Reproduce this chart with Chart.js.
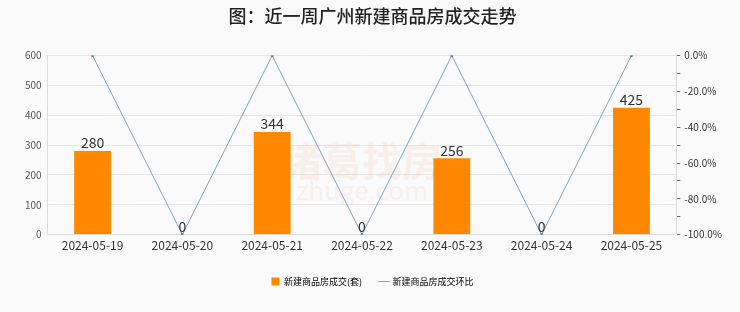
<!DOCTYPE html>
<html>
<head>
<meta charset="utf-8">
<script src="https://cdn.jsdelivr.net/npm/chart.js@4"></script>
<style>
  html, body { margin: 0; padding: 0; background: #fafafa; }
  #wrap { width: 740px; height: 312px; position: relative; }
</style>
</head>
<body>
<div id="wrap"><canvas id="c" width="740" height="312"></canvas></div>
<script>
// Chart data
const titleText = "图：近一周广州新建商品房成交走势";
const dates = ["2024-05-19", "2024-05-20", "2024-05-21", "2024-05-22", "2024-05-23", "2024-05-24", "2024-05-25"];
const deals = [280, 0, 344, 0, 256, 0, 425];          // 新建商品房成交(套)
const changeRate = [0, -100, 0, -100, 0, -100, 0];    // 新建商品房成交环比 (%)
const barLabel = "新建商品房成交(套)";
const lineLabel = "新建商品房成交环比";

const fontFamily = '"Noto Sans CJK SC", "DejaVu Sans", sans-serif';

// Draws values above bars
const barValues = {
    id: "barValues",
    afterDatasetsDraw(chart) {
        const ctx = chart.ctx;
        const meta = chart.getDatasetMeta(0);
        ctx.save();
        ctx.font = "14px " + fontFamily;
        ctx.fillStyle = "#333";
        ctx.textAlign = "center";
        ctx.textBaseline = "bottom";
        meta.data.forEach((bar, i) => {
            ctx.fillText(String(deals[i]), bar.x, bar.y - 1);
        });
        ctx.restore();
    }
};

// Faint watermark in the middle of the plot
const watermark = {
    id: "watermark",
    beforeDatasetsDraw(chart) {
        const a = chart.chartArea;
        const ctx = chart.ctx;
        ctx.save();
        ctx.fillStyle = "rgba(240, 160, 130, 0.13)";
        ctx.textAlign = "center";
        ctx.font = "bold 40px " + fontFamily;
        ctx.fillText("诸葛找房", (a.left + a.right) / 2, a.top + 105);
        ctx.font = "26px " + fontFamily;
        ctx.fillText("zhuge.com", (a.left + a.right) / 2, a.top + 135);
        ctx.restore();
    }
};

new Chart(document.getElementById("c"), {
    data: {
        labels: dates,
        datasets: [
            {
                type: "bar",
                label: barLabel,
                data: deals,
                backgroundColor: "#ff8800",
                yAxisID: "y",
                barPercentage: 0.41,
                categoryPercentage: 1.0,
                order: 2
            },
            {
                type: "line",
                label: lineLabel,
                data: changeRate,
                borderColor: "#7aa3d4",
                backgroundColor: "#4f6f99",
                borderWidth: 1,
                pointRadius: 1.5,
                pointBorderWidth: 0,
                tension: 0,
                yAxisID: "y1",
                order: 1
            }
        ]
    },
    options: {
        responsive: false,
        animation: false,
        layout: { padding: { left: 19, right: 14, top: 0, bottom: 16 } },
        plugins: {
            title: {
                display: true,
                text: titleText,
                color: "#222",
                font: { family: fontFamily, size: 18, weight: "500" },
                padding: { top: 5, bottom: 29 }
            },
            legend: {
                position: "bottom",
                labels: {
                    color: "#333",
                    font: { family: fontFamily, size: 9 },
                    boxWidth: 8,
                    boxHeight: 8,
                    padding: 18,
                    usePointStyle: true,
                    generateLabels(chart) {
                        return [
                            { text: barLabel, fillStyle: "#ff8800", strokeStyle: "#ff8800", lineWidth: 0, pointStyle: "rect", datasetIndex: 0 },
                            { text: lineLabel, fillStyle: "#4f6f99", strokeStyle: "#7aa3d4", lineWidth: 1, pointStyle: "line", datasetIndex: 1 }
                        ];
                    }
                }
            },
            tooltip: { enabled: false }
        },
        scales: {
            x: {
                grid: { display: false, drawTicks: false },
                border: { color: "#ddd" },
                ticks: { color: "#333", font: { family: fontFamily, size: 12 }, padding: 4, maxRotation: 0 },
                afterFit: s => { s.height += 2; } // extra room between the axis labels and the legend
            },
            y: {
                position: "left",
                min: 0,
                max: 600,
                ticks: { stepSize: 100, color: "#555", font: { family: fontFamily, size: 10 }, padding: 6 },
                grid: { color: "#e6e6e6", drawTicks: false },
                border: { color: "#ddd" }
            },
            y1: {
                position: "right",
                min: -100,
                max: 0,
                ticks: {
                    stepSize: 10,
                    autoSkip: false,
                    color: "#333",
                    font: { family: fontFamily, size: 10 },
                    padding: 4,
                    callback: v => (v % 20 === 0 ? v.toFixed(1) + "%" : "")
                },
                grid: { drawOnChartArea: false, tickLength: 4, color: "#666" },
                border: { color: "#ddd" }
            }
        }
    },
    plugins: [watermark, barValues]
});
</script>
</body>
</html>
